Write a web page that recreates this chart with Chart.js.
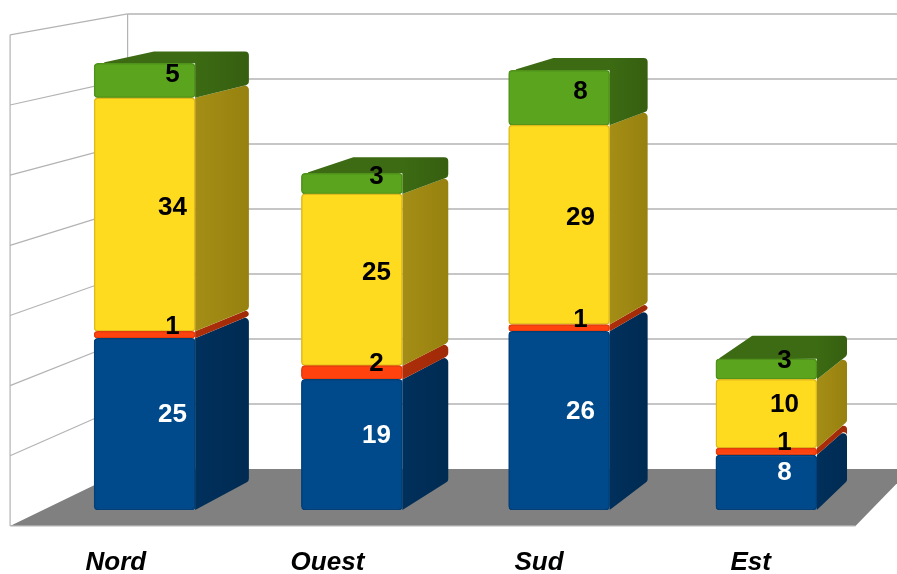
<!DOCTYPE html>
<html>
<head>
<meta charset="utf-8">
<style>
html, body { margin: 0; padding: 0; background: #fff; }
canvas { display: block; }
</style>
<script src="https://cdn.jsdelivr.net/npm/chart.js@4"></script>
</head>
<body>
<canvas id="chart" width="897" height="574"></canvas>
<script>
// data
const categories = ['Nord', 'Ouest', 'Sud', 'Est'];
const blueValues = [25, 19, 26, 8];
const redValues = [1, 2, 1, 1];
const yellowValues = [34, 25, 29, 10];
const greenValues = [5, 3, 8, 3];
const yTicks = [0, 10, 20, 30, 40, 50, 60, 70];

const frontColors = ['#004a8c', '#ff420e', '#ffdb1f', '#5ba51e'];
const rimColors = ['#003f78', '#e23c0c', '#dfba1c', '#4f911a'];
const sideColors = ['#00305c', '#ad2e0a', '#a58e16', '#3c6b13'];
const sideEndColors = ['#002b52', '#a02a08', '#97810f', '#365f10'];
const labelColors = ['#ffffff', '#000000', '#000000', '#000000'];

// vanishing point of the fake 3d, and depths measured from the bar front plane
const VP = { x: 1610, y: -250 };
const BAR_DEPTH = 0.038;
const WALL_BACK = 0.054;
const WALL_FRONT = -0.021;

function project(x, y, t) {
    return { x: x + t * (VP.x - x), y: y + t * (VP.y - y) };
}

// middle of a box, fitted on the value labels of the picture
function labelPoint(x, y) {
    return { x: x + 0.0158 * (1908 - x), y: y - 0.0103 * (y + 437) };
}

function roundedPath(ctx, pts, radii) {
    ctx.beginPath();
    const n = pts.length;
    const last = pts[n - 1];
    const first = pts[0];
    ctx.moveTo((last.x + first.x) / 2, (last.y + first.y) / 2);
    for (let i = 0; i < n; i++) {
        const next = pts[(i + 1) % n];
        ctx.arcTo(pts[i].x, pts[i].y, next.x, next.y, radii[i]);
    }
    ctx.closePath();
}

const box3d = {
    id: 'box3d',
    beforeDatasetsDraw(chart) {
        const ctx = chart.ctx;
        const area = chart.chartArea;
        const yScale = chart.scales.y;
        const y0 = yScale.getPixelForValue(0);
        const left = area.left + 2;
        const right = area.right + 1;

        ctx.save();
        // floor
        const fl = project(left, y0, WALL_FRONT);
        const fr = project(right, y0, WALL_FRONT);
        const bl = project(left, y0, WALL_BACK);
        const br = project(right, y0, WALL_BACK);
        ctx.fillStyle = '#808080';
        ctx.beginPath();
        ctx.moveTo(fl.x, fl.y);
        ctx.lineTo(fr.x, fr.y);
        ctx.lineTo(br.x, br.y);
        ctx.lineTo(bl.x, bl.y);
        ctx.closePath();
        ctx.fill();
        ctx.strokeStyle = '#b3b3b3';
        ctx.lineWidth = 1.2;
        ctx.beginPath();
        ctx.moveTo(fl.x, fl.y);
        ctx.lineTo(fr.x, fr.y);
        ctx.stroke();

        // walls and grid
        yTicks.forEach(v => {
            if (v === 0) return;
            const y = yScale.getPixelForValue(v);
            const a = project(left, y, WALL_FRONT);
            const b = project(left, y, WALL_BACK);
            const c = project(right, y, WALL_BACK);
            ctx.lineWidth = 1.2;
            ctx.beginPath();
            ctx.moveTo(a.x, a.y);
            ctx.lineTo(b.x, b.y);
            ctx.stroke();
            ctx.lineWidth = 1.6;
            ctx.beginPath();
            ctx.moveTo(b.x, b.y);
            ctx.lineTo(c.x, c.y);
            ctx.stroke();
        });
        const yTop = yScale.getPixelForValue(yTicks[yTicks.length - 1]);
        const topFront = project(left, yTop, WALL_FRONT);
        const topBack = project(left, yTop, WALL_BACK);
        ctx.lineWidth = 1.2;
        ctx.beginPath();
        ctx.moveTo(topFront.x, topFront.y);
        ctx.lineTo(fl.x, fl.y);
        ctx.moveTo(topBack.x, topBack.y);
        ctx.lineTo(bl.x, bl.y);
        ctx.stroke();

        // side of every segment; the top one also carries the lid
        const count = chart.data.datasets.length;
        chart.data.datasets.forEach((ds, d) => {
            chart.getDatasetMeta(d).data.forEach(bar => {
                const xl = bar.x - bar.width / 2;
                const xr = bar.x + bar.width / 2;
                const backTop = project(xr, bar.y, BAR_DEPTH);
                const backBase = project(xr, bar.base, BAR_DEPTH);
                const r = Math.min(4, (backBase.y - backTop.y) / 2);
                const grad = ctx.createLinearGradient(xr, 0, backTop.x, 0);
                grad.addColorStop(0, sideColors[d]);
                grad.addColorStop(1, sideEndColors[d]);
                ctx.fillStyle = grad;
                if (d === count - 1) {
                    const backLeft = project(xl, bar.y, BAR_DEPTH);
                    backLeft.x += 2.5;
                    roundedPath(ctx, [
                        { x: xl + 1, y: bar.y + 1 }, backLeft, backTop, backBase, { x: xr, y: bar.base }, { x: xr, y: bar.y }
                    ], [1, 2, r, r, 0, 0]);
                } else {
                    roundedPath(ctx, [
                        { x: xr, y: bar.y }, backTop, backBase, { x: xr, y: bar.base }
                    ], [0, r, r, 0]);
                }
                ctx.fill();
            });
        });
        ctx.restore();
    },
    afterDatasetsDraw(chart) {
        const ctx = chart.ctx;
        const yScale = chart.scales.y;
        const y0 = yScale.getPixelForValue(0);
        ctx.save();
        ctx.textAlign = 'center';
        ctx.textBaseline = 'middle';

        ctx.font = 'bold 26px "Liberation Sans"';
        chart.data.datasets.forEach((ds, d) => {
            chart.getDatasetMeta(d).data.forEach((bar, i) => {
                const p = labelPoint(bar.x, (bar.y + bar.base) / 2);
                ctx.fillStyle = labelColors[d];
                ctx.fillText(ds.data[i], p.x, p.y);
            });
        });

        // category names sit on the front edge of the floor
        ctx.font = 'italic bold 26px "Liberation Sans"';
        ctx.fillStyle = '#000000';
        categories.forEach((name, i) => {
            const p = project(chart.scales.x.getPixelForTick(i), y0, WALL_FRONT);
            ctx.fillText(name, p.x + 2, 563);
        });
        ctx.restore();
    }
};

function makeSet(label, values, index) {
    return {
        label: label,
        data: values,
        backgroundColor: frontColors[index],
        borderColor: rimColors[index],
        borderWidth: 1.5,
        borderRadius: { topLeft: 4, topRight: 4, bottomLeft: 4, bottomRight: 4 },
        borderSkipped: false,
        barThickness: 101
    };
}

new Chart(document.getElementById('chart').getContext('2d'), {
    type: 'bar',
    data: {
        labels: categories,
        datasets: [
            makeSet('Bleu', blueValues, 0),
            makeSet('Rouge', redValues, 1),
            makeSet('Jaune', yellowValues, 2),
            makeSet('Vert', greenValues, 3)
        ]
    },
    options: {
        responsive: false,
        animation: false,
        layout: { padding: { left: 41, right: 27, top: 29, bottom: 64 } },
        plugins: { legend: { display: false }, tooltip: { enabled: false } },
        scales: {
            x: { stacked: true, display: false },
            y: { stacked: true, display: false, min: 0, max: 70, ticks: { stepSize: 10 } }
        }
    },
    plugins: [box3d]
});
</script>
</body>
</html>
